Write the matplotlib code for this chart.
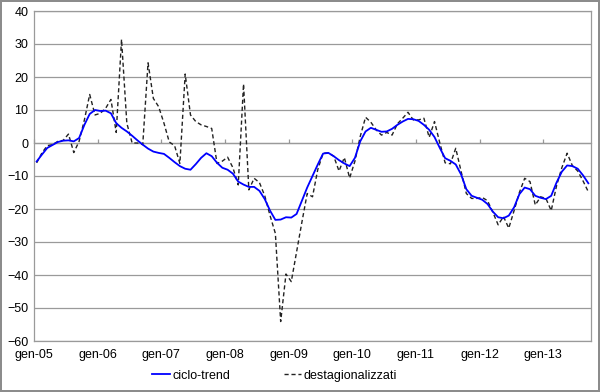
import matplotlib
matplotlib.use("Agg")
import matplotlib.pyplot as plt
import numpy as np

plt.rcParams['font.family'] = ['Liberation Sans', 'DejaVu Sans']

# mesi da gen-05 a set-13
anni = ["gen-05", "gen-06", "gen-07", "gen-08", "gen-09",
        "gen-10", "gen-11", "gen-12", "gen-13"]

ciclo_trend = [
    -5.6, -3.5, -1.5, -0.6, 0.3, 0.7, 0.8, 0.5, 1.5, 5.5, 8.8, 10.0,
    9.7, 9.8, 9.0, 6.0, 4.6, 3.5, 2.2, 0.8, -0.5, -1.7, -2.6, -3.0,
    -3.3, -4.5, -5.8, -7.0, -7.8, -8.1, -6.4, -4.5, -3.1, -4.0, -6.0, -7.5,
    -8.1, -9.3, -11.7, -12.6, -13.3, -13.3, -14.5, -17.0, -20.5, -23.3, -23.2, -22.5,
    -22.6, -21.5, -17.5, -13.5, -10.0, -6.5, -3.2, -3.0, -4.0, -5.2, -6.2, -7.0,
    -4.5, 0.5, 3.5, 4.6, 4.0, 3.4, 3.5, 4.3, 5.5, 6.5, 7.3, 7.2,
    6.7, 5.5, 4.0, 1.8, -1.5, -4.6, -5.4, -6.5, -9.5, -14.0, -16.0, -16.6,
    -17.2, -18.5, -20.8, -22.5, -22.8, -22.0, -19.5, -15.5, -13.5, -14.0, -16.0, -16.6,
    -17.0, -16.0, -12.0, -8.7, -6.8, -7.0, -7.8, -9.8, -12.2,
]

destagionalizzati = [
    -6.0, -3.0, -0.8, -0.5, 0.5, 0.8, 2.7, -2.9, 0.5, 7.0, 14.7, 8.5,
    9.0, 10.5, 13.2, 3.2, 31.4, 6.0, 0.0, 0.0, -0.5, 24.3, 13.5, 11.0,
    6.0, 0.3, -0.8, -6.2, 20.9, 8.5, 6.5, 5.5, 5.0, 4.4, -6.2, -5.5,
    -4.3, -7.5, -12.7, 17.9, -14.2, -10.7, -12.0, -16.0, -22.0, -27.4, -54.1, -39.7,
    -42.0, -33.0, -24.0, -15.3, -16.3, -8.0, -3.1, -3.0, -4.0, -8.5, -4.4, -10.6,
    -5.5, 2.0, 7.8, 6.3, 4.0, 2.4, 3.2, 2.4, 5.8, 7.5, 9.3, 7.0,
    7.0, 7.5, 1.7, 6.5, 0.0, -6.0, -6.3, -1.6, -8.5, -15.3, -16.8, -16.8,
    -16.5, -17.5, -21.0, -24.8, -22.3, -25.8, -20.5, -15.0, -10.7, -11.7, -18.8, -16.3,
    -16.8, -20.5, -13.0, -7.5, -3.1, -6.9, -8.5, -11.5, -14.8,
]

x = np.arange(len(ciclo_trend))
grigio = '#9a9a9a'

fig = plt.figure(figsize=(6.0, 3.92), dpi=100)
fig.patch.set_edgecolor('#8c8c8c')
fig.patch.set_linewidth(1.5)
ax = fig.add_axes([34 / 600, 51 / 392, 557 / 600, 330 / 392])

ax.plot(x, ciclo_trend, color='#0000ff', lw=1.3, label='ciclo-trend', zorder=3)
ax.plot(x, destagionalizzati, color='#222222', lw=1.0, ls=(0, (3, 2)),
        label='destagionalizzati', zorder=2)

ax.set_xlim(-0.5, len(x) - 0.5)
ax.set_ylim(-60, 40)
ax.set_yticks(np.arange(-60, 41, 10))
ax.yaxis.grid(True, color=grigio, lw=0.9)
ax.set_axisbelow(True)
for s in ax.spines.values():
    s.set_color(grigio)
    s.set_linewidth(0.9)
ax.tick_params(axis='y', length=0, labelsize=9, pad=4)

tick_pos = np.arange(len(anni)) * 12 - 0.5
ax.set_xticks(tick_pos)
ax.set_xticklabels(anni)
ax.tick_params(axis='x', length=0, labelsize=9, pad=6)

# asse delle x che attraversa lo zero
asse0 = ax.secondary_xaxis(0.6)
asse0.set_xticks(tick_pos)
asse0.tick_params(axis='x', length=3, width=0.9, color=grigio, labelbottom=False,
                  labeltop=False, direction='out')
asse0.spines['bottom'].set_color(grigio)
asse0.spines['bottom'].set_linewidth(0.9)

fig.legend(loc='center', bbox_to_anchor=(0.458, 0.042), ncol=2, frameon=False,
           fontsize=9, handlelength=1.4, handletextpad=0.2, columnspacing=4.3)

fig.savefig('out.png', dpi=100)
